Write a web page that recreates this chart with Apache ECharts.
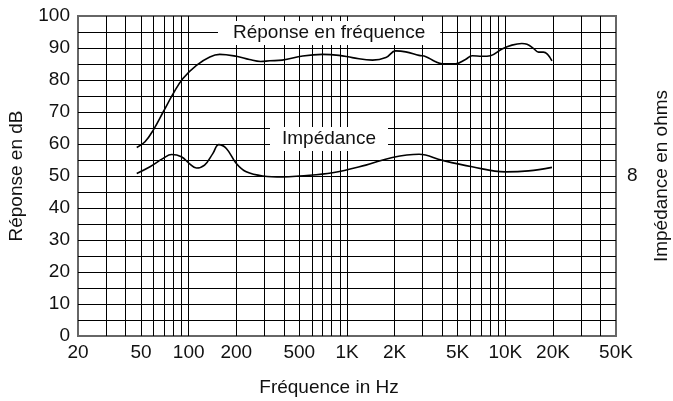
<!DOCTYPE html>
<html>
<head>
<meta charset="utf-8">
<script src="https://cdn.jsdelivr.net/npm/echarts@6/dist/echarts.min.js"></script>
<style>
html,body{margin:0;padding:0;background:#fff;}
#chart{width:673px;height:401px;}
</style>
</head>
<body>
<div id="chart"></div>
<script>
// Frequency grid and labels (Hz)
const xLabelFreqs = [20, 50, 100, 200, 500, 1000, 2000, 5000, 10000, 20000, 50000];
const xGridFreqs = [30, 40, 50, 60, 70, 80, 90, 100, 200, 300, 400, 500, 600, 700, 800, 900,
  1000, 2000, 3000, 4000, 5000, 6000, 7000, 8000, 9000, 10000, 20000, 30000, 40000];
const yLabelValues = [0, 10, 20, 30, 40, 50, 60, 70, 80, 90, 100];

// Réponse en fréquence (dB)
const respFreq = [47, 53, 60, 69, 80, 92, 112, 136, 157, 200, 242, 285, 325, 390, 525, 700, 890, 1080,
  1450, 1760, 2030, 2350, 2850, 3150, 3600, 4000, 4850, 5600, 6170, 7140, 8060, 9530, 11000, 12700,
  13700, 15100, 16200, 17400, 19700];
const respDb = [58.9, 60.7, 64.5, 70.0, 75.8, 80.5, 84.6, 87.2, 88.0, 87.4, 86.4, 85.8, 86.0, 86.2,
  87.5, 88.0, 87.7, 87.0, 86.2, 87.0, 89.1, 88.8, 87.7, 87.3, 85.8, 85.1, 85.1, 86.4, 87.6, 87.4,
  87.6, 89.7, 90.9, 91.4, 91.2, 89.8, 88.7, 88.7, 86.0];

// Impédance (plotted on dB scale)
const impFreq = [47, 57, 69, 78, 90, 101, 112, 126, 142, 155, 173, 200, 231, 294, 393, 500, 810,
  1315, 1934, 2850, 4000, 6170, 10000, 14000, 19700];
const impDb = [50.8, 52.9, 55.5, 56.7, 56.0, 53.9, 52.5, 53.4, 57.0, 59.8, 58.6, 53.9, 51.3, 50.0,
  49.7, 50.0, 51.0, 53.4, 55.8, 56.8, 54.9, 52.9, 51.3, 51.6, 52.7];

const FONT = "'Liberation Sans', Arial, sans-serif";
const FS = 19;
const lg = Math.log10;
function fmtFreq(v) {
  const f = Math.round(Math.pow(10, v));
  return f >= 1000 ? (f / 1000) + 'K' : String(f);
}
const toPairs = (xs, ys) => xs.map((f, i) => [lg(f), ys[i]]);

const chart = echarts.init(document.getElementById('chart'), null, {renderer: 'canvas'});
chart.setOption({
  animation: false,
  backgroundColor: '#fff',
  textStyle: {fontFamily: FONT},
  title: [
    {text: 'Réponse en fréquence', left: 218, top: 21, backgroundColor: '#fff',
     padding: [2, 15, 2, 15],
     textStyle: {fontFamily: FONT, fontSize: FS, fontWeight: 'normal', color: '#111', lineHeight: 20}},
    {text: 'Impédance', left: 270, top: 127, backgroundColor: '#fff',
     padding: [2, 12, 2, 12],
     textStyle: {fontFamily: FONT, fontSize: FS, fontWeight: 'normal', color: '#111', lineHeight: 20}}
  ],
  grid: {left: 78, right: 57, top: 16, bottom: 65, show: true, borderColor: '#666', borderWidth: 2,
         containLabel: false, outerBoundsMode: 'none'},
  xAxis: {
    type: 'value', min: lg(20), max: lg(50000),
    name: 'Fréquence in Hz', nameLocation: 'middle', nameGap: 42,
    nameTextStyle: {fontFamily: FONT, fontSize: FS, color: '#111', padding: [0, 36, 0, 0]},
    axisLine: {show: false},
    axisTick: {show: false, customValues: xGridFreqs.map(lg)},
    axisLabel: {customValues: xLabelFreqs.map(lg), formatter: fmtFreq, margin: 7,
      fontFamily: FONT, fontSize: FS, color: '#111'},
    splitLine: {show: true, lineStyle: {color: '#000', width: 1}}
  },
  yAxis: [
    {type: 'value', min: 0, max: 100, interval: 5, position: 'left',
     name: 'Réponse en dB', nameLocation: 'middle', nameGap: 52, nameRotate: 90,
     nameTextStyle: {fontFamily: FONT, fontSize: FS, color: '#111'},
     axisLine: {show: false}, axisTick: {show: false},
     axisLabel: {customValues: yLabelValues, margin: 8, fontFamily: FONT, fontSize: FS, color: '#111'},
     splitLine: {show: true, showMinLine: false, showMaxLine: false, lineStyle: {color: '#000', width: 1}}},
    {type: 'value', min: 0, max: 100, interval: 50, position: 'right',
     name: 'Impédance en ohms', nameLocation: 'middle', nameGap: 36, nameRotate: 90,
     nameTextStyle: {fontFamily: FONT, fontSize: FS, color: '#111'},
     axisLine: {show: false}, axisTick: {show: false},
     axisLabel: {margin: 11, fontFamily: FONT, fontSize: FS, color: '#111',
       formatter: v => (v === 50 ? '8' : '')},
     splitLine: {show: false}}
  ],
  series: [
    {type: 'line', name: 'Réponse en fréquence', data: toPairs(respFreq, respDb), smooth: 0.4,
     showSymbol: false, lineStyle: {color: '#000', width: 1.6}, z: 5},
    {type: 'line', name: 'Impédance', data: toPairs(impFreq, impDb), smooth: 0.4,
     showSymbol: false, lineStyle: {color: '#000', width: 1.6}, z: 5}
  ]
});
</script>
</body>
</html>
